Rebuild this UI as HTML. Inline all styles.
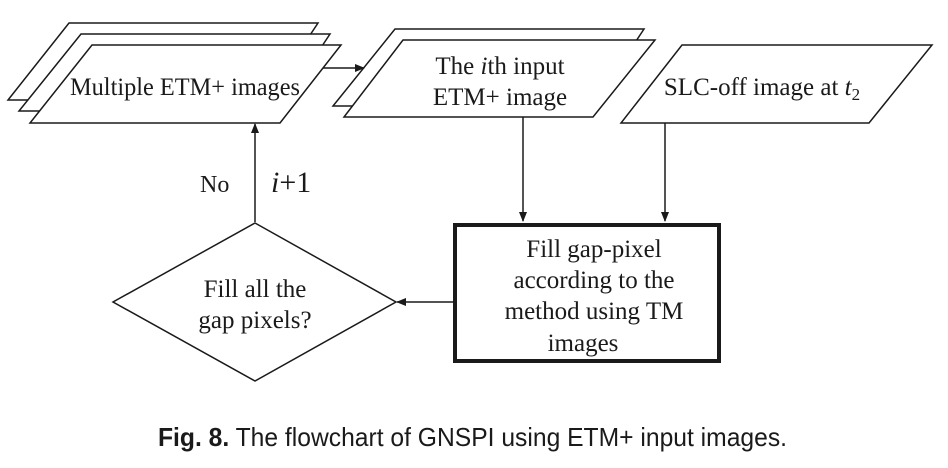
<!DOCTYPE html>
<html><head><meta charset="utf-8"><style>
html,body{margin:0;padding:0;background:#fff;}
svg{display:block;}
text{font-family:"Liberation Serif",serif;fill:#1a1a1a;}
</style></head><body>
<svg width="948" height="468" viewBox="0 0 948 468" xmlns="http://www.w3.org/2000/svg">
<defs><marker id="a" markerWidth="10" markerHeight="10" refX="9" refY="5" orient="auto" markerUnits="userSpaceOnUse"><path d="M0,1 L10,5 L0,9 Z" fill="#1a1a1a"/></marker></defs>
<g stroke="#1a1a1a" stroke-width="1.5" fill="#fff">
<polygon points="69,23 318,23 267,100 8,100"/>
<polygon points="81,34 330,34 279,111 19,111"/>
<polygon points="92,45 341,45 280,123 30,123"/>
<polygon points="395,29 644,29 593,106 333,106"/>
<polygon points="403,40 655,40 593,117 344,117"/>
<polygon points="682,45 932,45 869,123 621,123"/>
<polygon points="255,223 396,302 255,381 113,302"/>
</g>
<rect x="455" y="225" width="264" height="136" fill="#fff" stroke="#1a1a1a" stroke-width="4"/>
<g stroke="#1a1a1a" stroke-width="1.5" fill="none">
<line x1="323" y1="68" x2="364" y2="68" marker-end="url(#a)"/>
<line x1="523" y1="117" x2="523" y2="221" marker-end="url(#a)"/>
<line x1="665" y1="123" x2="665" y2="221" marker-end="url(#a)"/>
<line x1="255" y1="222" x2="255" y2="124" marker-end="url(#a)"/>
<line x1="453" y1="302" x2="397" y2="302" marker-end="url(#a)"/>
</g>
<g font-size="25" text-anchor="middle">
<text x="185" y="95" textLength="230" lengthAdjust="spacingAndGlyphs">Multiple ETM+ images</text>
<text x="500" y="74">The <tspan font-style="italic">i</tspan>th input</text>
<text x="500" y="105">ETM+ image</text>
<text x="762" y="95">SLC-off image at <tspan font-style="italic">t</tspan><tspan font-size="17" dy="5">2</tspan></text>
<text x="255" y="297">Fill all the</text>
<text x="255" y="328">gap pixels?</text>
<text x="594" y="257">Fill gap-pixel</text>
<text x="594" y="288">according to the</text>
<text x="594" y="319">method using TM</text>
<text x="583" y="351">images</text>
</g>
<text x="200" y="192" font-size="24">No</text>
<text x="271" y="192" font-size="30"><tspan font-style="italic">i</tspan>+1</text>
<text x="158" y="446" font-size="26" textLength="629" lengthAdjust="spacingAndGlyphs" style="font-family:'Liberation Sans',sans-serif"><tspan font-weight="bold">Fig. 8.</tspan> The flowchart of GNSPI using ETM+ input images.</text>
</svg>
</body></html>
